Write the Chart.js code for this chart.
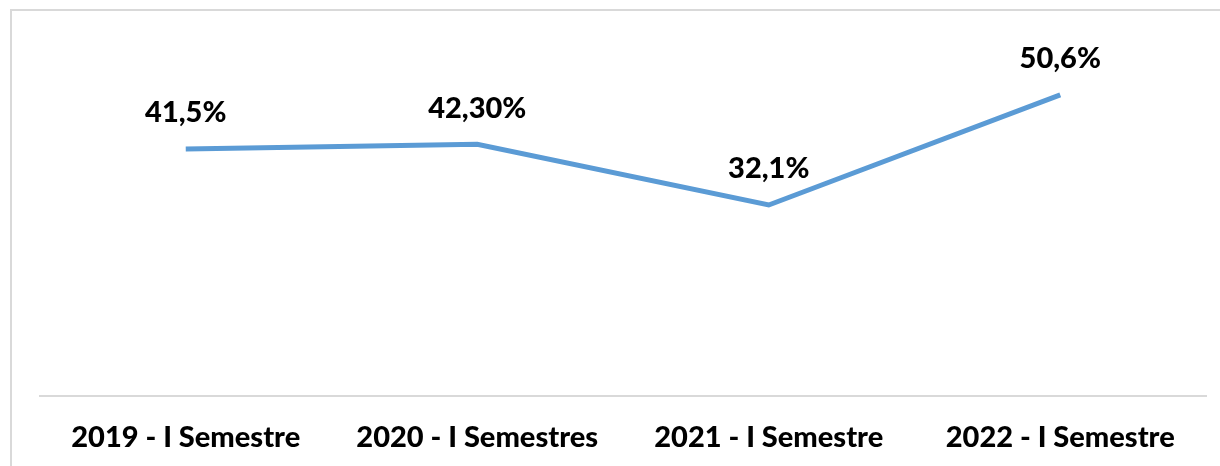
<!DOCTYPE html>
<html><head><meta charset="utf-8">
<script src="https://cdn.jsdelivr.net/npm/chart.js@4.4.0/dist/chart.umd.min.js"></script>
<style>html,body{margin:0;padding:0;background:#fff;}#wrap{width:1220px;height:466px;position:relative;}</style>
</head><body><div id="wrap"><canvas id="c" width="1220" height="466"></canvas></div>
<script>
const categories = ["2019 - I Semestre", "2020 - I Semestres", "2021 - I Semestre", "2022 - I Semestre"];
const values = [41.5, 42.3, 32.1, 50.6];
const valueLabels = ["41,5%", "42,30%", "32,1%", "50,6%"];

const FONT = "Lato";
const frame = {
  id: 'frame',
  beforeDraw(chart) {
    const ctx = chart.ctx;
    ctx.save();
    ctx.fillStyle = '#fff';
    ctx.fillRect(0, 0, chart.width, chart.height);
    ctx.strokeStyle = '#d9d9d9';
    ctx.lineWidth = 2;
    ctx.strokeRect(11, 10, chart.width + 10, chart.height + 10);
    ctx.restore();
  },
  afterDatasetsDraw(chart) {
    const ctx = chart.ctx;
    const meta = chart.getDatasetMeta(0);
    ctx.save();
    ctx.font = "900 29px " + FONT;
    ctx.fillStyle = '#000';
    ctx.textAlign = 'center';
    ctx.textBaseline = 'middle';
    meta.data.forEach((p, i) => {
      ctx.fillText(valueLabels[i], p.x, p.y - 36);
    });
    ctx.restore();
  }
};

new Chart(document.getElementById('c'), {
  type: 'line',
  data: {
    labels: categories,
    datasets: [{
      data: values,
      borderColor: '#5b9bd5',
      borderWidth: 5,
      pointRadius: 0,
      tension: 0,
      fill: false
    }]
  },
  options: {
    responsive: false,
    animation: false,
    layout: { padding: { left: 40, right: 14, top: 39, bottom: 0 } },
    plugins: { legend: { display: false }, tooltip: { enabled: false } },
    scales: {
      x: {
        offset: true,
        afterFit(scale) { scale.height = 70; },
        grid: { display: false, drawTicks: false },
        border: { display: true, color: '#d9d9d9', width: 2 },
        ticks: { color: '#000', font: { family: FONT, size: 29, weight: '900' }, padding: 24, maxRotation: 0, autoSkip: false }
      },
      y: {
        display: false,
        min: 0, max: 60
      }
    }
  },
  plugins: [frame]
});
</script></body></html>
